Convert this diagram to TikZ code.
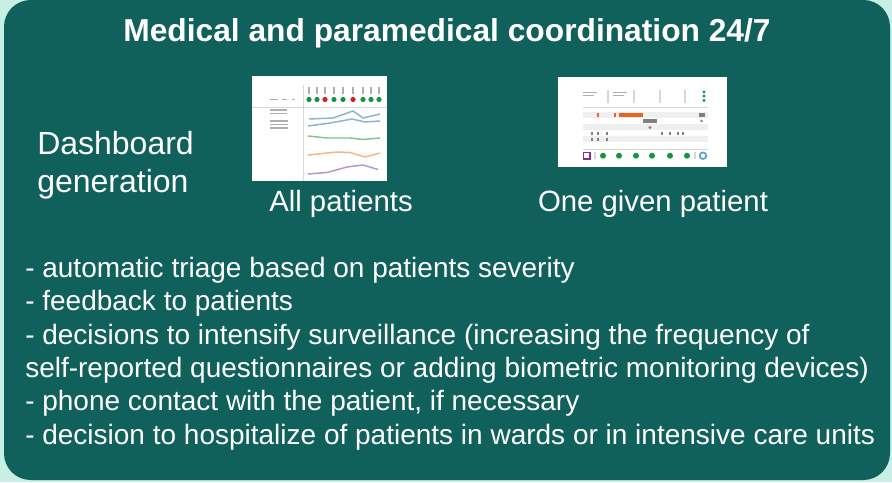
\documentclass[tikz,border=0pt]{standalone}
\usepackage{fontspec}
\setmainfont{Liberation Sans}

\definecolor{panelteal}{RGB}{16,96,92}
\definecolor{mintbg}{RGB}{200,239,227}
\definecolor{thumbgray}{RGB}{175,175,175}
\definecolor{rulegray}{RGB}{215,215,215}
\definecolor{dotgreen}{RGB}{20,150,60}
\definecolor{dotred}{RGB}{215,30,40}
\definecolor{lineblue}{RGB}{140,178,212}
\definecolor{linegreen}{RGB}{130,196,145}
\definecolor{lineorange}{RGB}{248,180,130}
\definecolor{linepurple}{RGB}{180,150,205}
\definecolor{barorange}{RGB}{235,100,30}
\definecolor{boxpurple}{RGB}{125,50,150}
\definecolor{ringblue}{RGB}{90,160,210}

\tikzset{
  title/.style={anchor=base, text=white, inner sep=0pt,
    font=\bfseries\fontsize{23.8}{29}\selectfont},
  caption/.style={anchor=base, text=white, inner sep=0pt,
    font=\fontsize{22}{26}\selectfont},
  bigtext/.style={anchor=base west, text=white, align=left, inner sep=0pt,
    font=\fontsize{24}{28.5}\selectfont},
  bodytext/.style={anchor=base west, text=white, align=left, inner sep=0pt,
    font=\fontsize{21}{25}\selectfont},
  tick/.style={thumbgray, line width=1.2pt},
  chartline/.style={line width=1.1pt, line join=round},
}

\begin{document}
\begin{tikzpicture}[x=0.75pt, y=-0.75pt]
        \useasboundingbox (0,0) rectangle (892,482);
        \fill[mintbg] (0,0) rectangle (892,482);

        % Panel
        \fill[panelteal, rounded corners=20pt] (4,0) rectangle (890,480);

        % Title
        \node[title] (title) at (447,41) {Medical and paramedical coordination 24/7};

        % Dashboard label (base = last line)
        \node[bigtext] (dashboard) at (37,192) {Dashboard\\generation};

        % Thumbnail: all patients
        \fill[white] (252,76) rectangle (387,181);
        \draw[rulegray] (303,85) -- (303,181);
        \draw[rulegray] (252,107) -- (387,107);
        \foreach \x/\c in {309/dotgreen, 317/dotgreen, 325/dotred, 334/dotgreen, 343/dotgreen, 353/dotred, 363/dotgreen, 371/dotgreen, 379/dotgreen} {
            \draw[tick] (\x,87) -- (\x,94);
            \fill[\c] (\x,99.5) circle (2.6);
        }
        \foreach \a/\b/\y in {270/278/99.5, 282/287/99.5, 292/295/99.5, 270/287/110, 270/287/113.5, 270/288/121, 270/288/124.5, 270/288/128} {
            \draw[thumbgray, line width=0.8pt] (\a,\y) -- (\b,\y);
        }
        % Trend lines
        \draw[chartline, lineblue] (309,119) -- (333,118) -- (353,111) -- (363,118) -- (380,114);
        \draw[chartline, lineblue] (308,126) -- (330,123) -- (352,119) -- (365,122) -- (380,121);
        \draw[chartline, linegreen] (308,136) -- (327,138) -- (350,138) -- (363,139.5) -- (380,138);
        \draw[chartline, lineorange] (308,155) -- (337,152) -- (350,152.5) -- (365,157) -- (380,153);
        \draw[chartline, linepurple] (308,174) -- (327,172.5) -- (347,167) -- (363,165) -- (378,169.5);
        \node[caption] (allpatients) at (341,211) {All patients};

        % Thumbnail: one given patient
        \fill[white] (558,77) rectangle (727,167);
        \foreach \x in {608, 634, 660, 685} {
            \draw[rulegray, line width=1pt] (\x,90) -- (\x,103);
        }
        \foreach \a/\b in {583/597, 613/627} {
            \draw[thumbgray, line width=0.7pt] (\a,92) -- (\b,92);
            \draw[thumbgray, line width=0.7pt] (\a,95) -- (\b-3,95);
        }
        \foreach \y in {92, 96, 100.5} {
            \fill[dotgreen] (704,\y) circle (1.6);
        }
        \draw[rulegray] (583,107.5) -- (708,107.5);
        \fill[rulegray!40] (583,112) rectangle (708,118);
        \fill[rulegray!40] (583,124) rectangle (708,130);
        \fill[rulegray!40] (583,136) rectangle (708,142);
        \draw[barorange, line width=1pt] (598,113) -- (598,117) (615,113) -- (615,117);
        \draw[barorange, line width=3pt] (619,115) -- (643,115);
        \draw[gray, line width=2.5pt] (699,115) -- (705,115);
        \draw[gray, line width=2.5pt] (643,121) -- (657,121);
        \fill[gray] (701.5,121) circle (1.3);
        \fill[gray] (650,127.5) circle (1.6);
        \foreach \x in {592, 598, 607, 662, 670, 678, 683} {
            \draw[gray, line width=0.8pt] (\x,131.5) -- (\x,135);
        }
        \foreach \x in {592, 598, 607} {
            \draw[gray, line width=0.8pt] (\x,137.5) -- (\x,141);
        }
        \draw[rulegray] (583,149) -- (708,149);
        \draw[boxpurple, line width=1.3pt, fill=white] (583.5,152.5) rectangle (590,159);
        \foreach \x in {595, 695} {
            \draw[rulegray, line width=1pt] (\x,152) -- (\x,159);
        }
        \foreach \x in {603, 619, 636, 652, 670, 687} {
            \fill[dotgreen] (\x,155.7) circle (3);
        }
        \draw[ringblue, line width=1.3pt] (703,155.7) circle (3.3);
        \node[caption] (onepatient) at (653,211) {One given patient};

        % Actions (base = last line)
        \node[bodytext] (actions) at (25,444) {- automatic triage based on patients severity\\
            - feedback to patients\\
            - decisions to intensify surveillance (increasing the frequency of\\
            self-reported questionnaires or adding biometric monitoring devices)\\
            - phone contact with the patient, if necessary\\
            - decision to hospitalize of patients in wards or in intensive care units};

    \end{tikzpicture}
\end{document}
